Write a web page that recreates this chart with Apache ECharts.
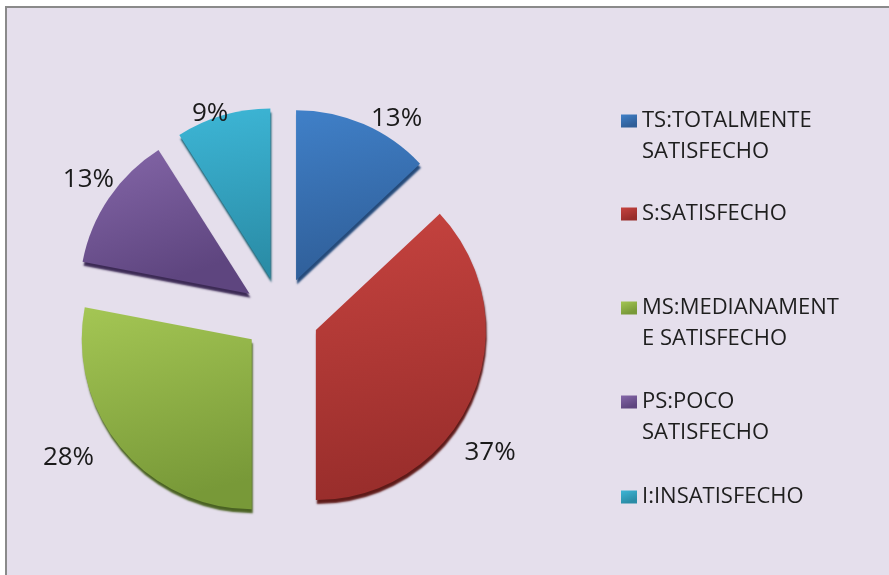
<!DOCTYPE html>
<html>
<head>
<meta charset="utf-8">
<script src="https://cdn.jsdelivr.net/npm/echarts@6/dist/echarts.min.js"></script>
<style>
  html, body { margin: 0; padding: 0; background: #ffffff; }
  #frame {
    position: absolute; left: 5px; top: 6px;
    width: 884px; height: 569px;
    border-left: 2px solid #8a8a8a; border-top: 2px solid #8a8a8a;
    background: #e5dfec;
  }
  #pie_chart { width: 884px; height: 569px; }
</style>
</head>
<body>
<div id="frame"><div id="pie_chart"></div></div>
<script>
var categories = ['TS:TOTALMENTE SATISFECHO', 'S:SATISFECHO', 'MS:MEDIANAMENTE SATISFECHO', 'PS:POCO SATISFECHO', 'I:INSATISFECHO'];
var legendText = ['TS:TOTALMENTE\nSATISFECHO', 'S:SATISFECHO', 'MS:MEDIANAMENT\nE SATISFECHO', 'PS:POCO\nSATISFECHO', 'I:INSATISFECHO'];
var percents = [13, 37, 28, 13, 9];

var topColors = ['#4080c8', '#c6433f', '#a4c654', '#8567a9', '#3db6d6'];
var bottomColors = ['#2f5e98', '#982d2b', '#789938', '#5e457f', '#2a8ca6'];
var edgeColors = ['#244a7a', '#5e1a18', '#4a6222', '#3c2a55', '#1c5f70'];

// nudges so the percent labels sit where Excel put them
var labelNudge = [[0, 0], [-18, 53], [-17, 6], [15, -15], [12, 4]];

// legend rows: y of the first text line (chart coords)
var legendRows = [113, 206, 300, 394, 489];
var lineH = 31;

var chart = echarts.init(document.getElementById('pie_chart'));

var pieData = categories.map(function (name, i) {
    return {
        name: name,
        value: percents[i],
        selected: true,
        itemStyle: {
            color: {
                type: 'linear', x: 0, y: 0, x2: 0.3, y2: 1,
                colorStops: [
                    { offset: 0, color: topColors[i] },
                    { offset: 1, color: bottomColors[i] }
                ]
            },
            shadowColor: edgeColors[i],
            shadowBlur: 2,
            shadowOffsetX: 1,
            shadowOffsetY: 4
        }
    };
});

var legends = categories.map(function (name, i) {
    var twoLines = legendText[i].indexOf('\n') >= 0;
    // a leading empty line keeps the icon level with the first text line
    var txt = twoLines ? '\n' + legendText[i] : legendText[i];
    var h = twoLines ? lineH * 3 : lineH;
    return {
        data: [name],
        orient: 'vertical',
        left: 614,
        top: legendRows[i] - h / 2,
        padding: 0,
        icon: 'rect',
        itemWidth: 16,
        itemHeight: 13,
        itemGap: 0,
        selectedMode: false,
        formatter: function () { return txt; },
        textStyle: {
            fontFamily: 'Open Sans',
            fontSize: 22,
            color: '#1e1e1e',
            lineHeight: lineH
        }
    };
});

var option = {
    animation: false,
    legend: legends,
    series: [ {
        type: 'pie',
        center: [274, 307],
        radius: 170,
        startAngle: 90,
        clockwise: true,
        selectedMode: 'multiple',
        selectedOffset: 38,
        avoidLabelOverlap: false,
        emphasis: { disabled: true },
        label: {
            show: true,
            position: 'outside',
            formatter: '{c}%',
            fontFamily: 'Open Sans',
            fontSize: 26,
            color: '#1a1a1a'
        },
        labelLine: { show: false, length: 6, length2: 0 },
        labelLayout: function (params) {
            var n = labelNudge[params.dataIndex];
            return { dx: n[0], dy: n[1] };
        },
        data: pieData
    } ]
};

chart.setOption(option);

window.onresize = chart.resize;
</script>
</body>
</html>
